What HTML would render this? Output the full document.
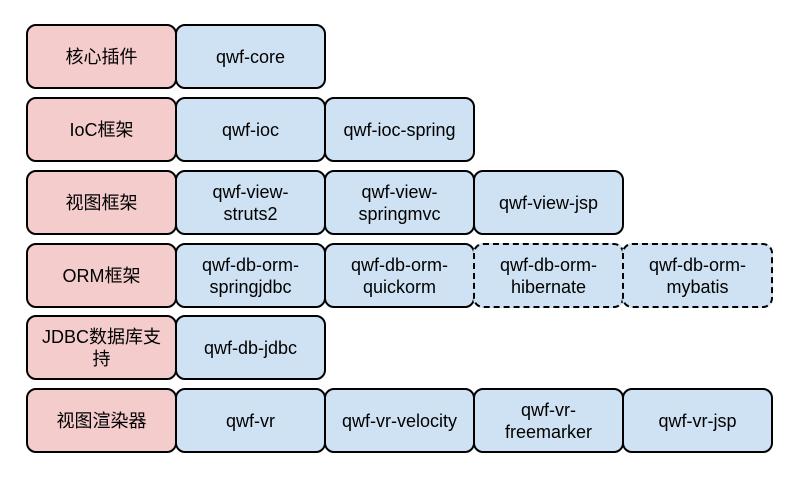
<!DOCTYPE html>
<html><head><meta charset="utf-8"><style>
body{margin:0;width:808px;height:478px;background:#fff;position:relative;overflow:hidden;font-family:"Liberation Sans","Noto Sans CJK SC",sans-serif;}
.b{position:absolute;box-sizing:border-box;width:151px;height:65px;border:2px solid #000;border-radius:10px;display:flex;align-items:center;justify-content:center;text-align:center;font-size:18px;line-height:22px;color:#000;background:#cfe2f3;}
.p{background:#f4cccc;}
.d{border-style:dashed;}
</style></head><body>
<div class="b p" style="left:26px;top:24px">核心插件</div>
<div class="b" style="left:175px;top:24px">qwf-core</div>

<div class="b p" style="left:26px;top:97px">IoC框架</div>
<div class="b" style="left:175px;top:97px">qwf-ioc</div>
<div class="b" style="left:324px;top:97px">qwf-ioc-spring</div>

<div class="b p" style="left:26px;top:170px">视图框架</div>
<div class="b" style="left:175px;top:170px">qwf-view-<br>struts2</div>
<div class="b" style="left:324px;top:170px">qwf-view-<br>springmvc</div>
<div class="b" style="left:473px;top:170px">qwf-view-jsp</div>

<div class="b p" style="left:26px;top:243px">ORM框架</div>
<div class="b" style="left:175px;top:243px">qwf-db-orm-<br>springjdbc</div>
<div class="b" style="left:324px;top:243px">qwf-db-orm-<br>quickorm</div>
<div class="b d" style="left:473px;top:243px">qwf-db-orm-<br>hibernate</div>
<div class="b d" style="left:622px;top:243px">qwf-db-orm-<br>mybatis</div>

<div class="b p" style="left:26px;top:315px">JDBC数据库支<br>持</div>
<div class="b" style="left:175px;top:315px">qwf-db-jdbc</div>

<div class="b p" style="left:26px;top:388px">视图渲染器</div>
<div class="b" style="left:175px;top:388px">qwf-vr</div>
<div class="b" style="left:324px;top:388px">qwf-vr-velocity</div>
<div class="b" style="left:473px;top:388px">qwf-vr-<br>freemarker</div>
<div class="b" style="left:622px;top:388px">qwf-vr-jsp</div>
</body></html>
